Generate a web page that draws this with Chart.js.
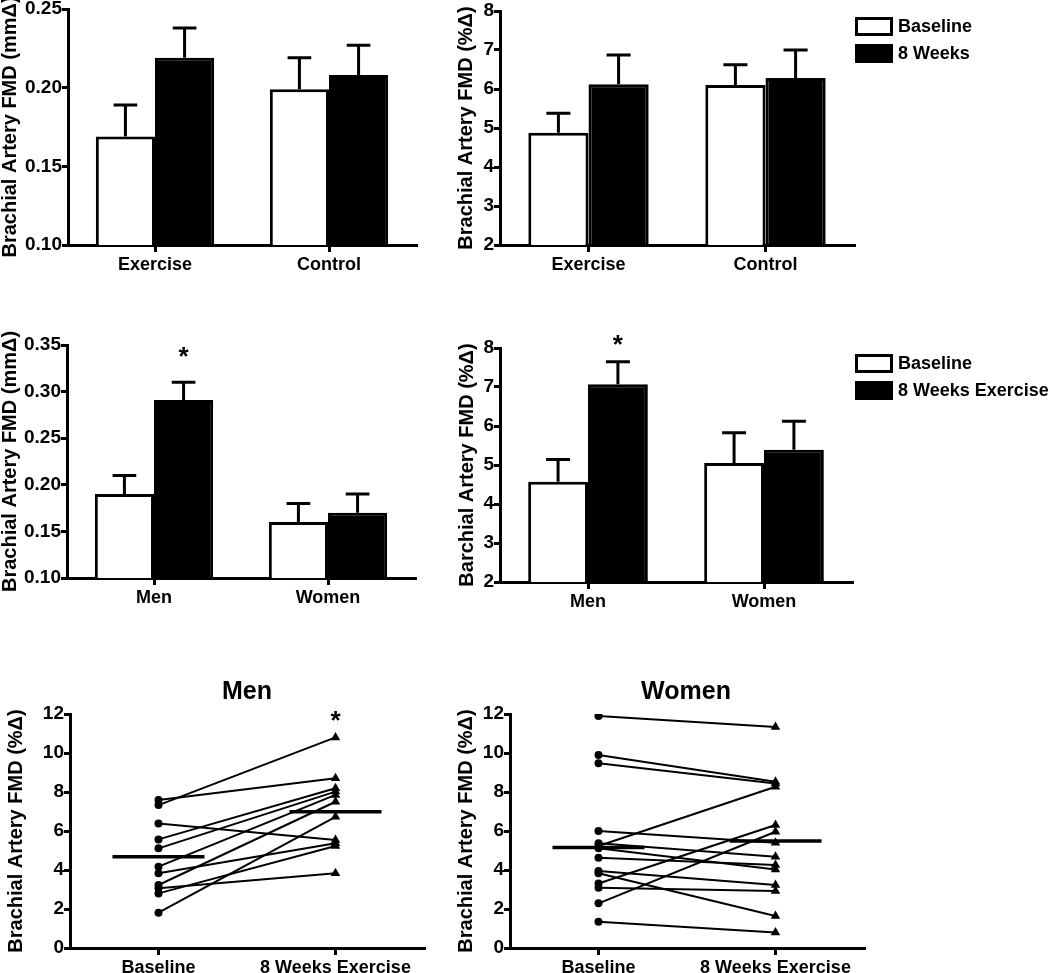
<!DOCTYPE html>
<html>
<head>
<meta charset="utf-8">
<script src="https://cdn.jsdelivr.net/npm/chart.js@4.4.1/dist/chart.umd.min.js"></script>
<style>
    body { margin: 0; background: #fff; width: 1050px; height: 973px; overflow: hidden; position: relative;
           font-family: "Liberation Sans", Arial, sans-serif; }
    canvas { position: absolute; }
    .legend { position: absolute; font-weight: bold; font-size: 18px; color: #000; white-space: nowrap; }
    .legend .row { display: flex; align-items: center; height: 27px; }
    .legend .box { width: 32px; height: 13px; border: 3px solid #000; margin-right: 5px; }
    .ptitle { position: absolute; font-weight: bold; font-size: 25px; transform: translate(-50%, -50%); }
</style>
</head>
<body>
<canvas id="chart-a" width="434" height="286" style="left:-4px;top:-6px"></canvas>
<canvas id="chart-b" width="430" height="284" style="left:440px;top:-4px"></canvas>
<canvas id="chart-c" width="434" height="283" style="left:-4px;top:330px"></canvas>
<canvas id="chart-d" width="430" height="284" style="left:440px;top:333px"></canvas>
<canvas id="chart-e" width="440" height="313" style="left:0;top:665px"></canvas>
<canvas id="chart-f" width="440" height="313" style="left:440px;top:665px"></canvas>

<div class="legend" style="left:855px;top:13px">
    <div class="row"><div class="box" style="background:#fff"></div>Baseline</div>
    <div class="row"><div class="box" style="background:#000"></div>8 Weeks</div>
</div>
<div class="legend" style="left:855px;top:350px">
    <div class="row"><div class="box" style="background:#fff"></div>Baseline</div>
    <div class="row"><div class="box" style="background:#000"></div>8 Weeks Exercise</div>
</div>
<div class="ptitle" style="left:247px;top:690px">Men</div>
<div class="ptitle" style="left:686px;top:690px">Women</div>

<script>
// ── Data ────────────────────────────────────────────────────────────────
const groupsTrial = ["Exercise", "Control"];
const groupsSex = ["Men", "Women"];
const timeLabels = ["Baseline", "8 Weeks Exercise"];

// A: mm change, Exercise vs Control
const mmBaseline = [0.169, 0.199];
const mmBaselineSem = [0.020, 0.020];
const mm8Weeks = [0.219, 0.208];
const mm8WeeksSem = [0.019, 0.019];

// B: % change, Exercise vs Control
const pctBaseline = [4.88, 6.10];
const pctBaselineSem = [0.50, 0.52];
const pct8Weeks = [6.12, 6.28];
const pct8WeeksSem = [0.75, 0.72];

// C: mm change, Men vs Women
const mmSexBaseline = [0.190, 0.160];
const mmSexBaselineSem = [0.020, 0.020];
const mmSex8Weeks = [0.291, 0.170];
const mmSex8WeeksSem = [0.019, 0.020];

// D: % change, Men vs Women
const pctSexBaseline = [4.57, 5.05];
const pctSexBaselineSem = [0.57, 0.78];
const pctSex8Weeks = [7.07, 5.39];
const pctSex8WeeksSem = [0.58, 0.73];

// E/F: individual subjects
const menBaseline = [7.33, 7.59, 6.39, 5.57, 5.11, 4.17, 3.83, 3.23, 3.06, 2.80, 1.81];
const menWeek8 = [10.80, 8.70, 5.54, 8.19, 8.02, 7.85, 5.37, 7.50, 3.83, 5.23, 6.73];
const menMeans = [4.68, 6.99];

const womenBaseline = [11.90, 9.90, 9.47, 5.23, 6.00, 5.37, 5.11, 4.63, 3.95, 3.83, 3.31, 3.09, 2.29, 1.35];
const womenWeek8 = [11.33, 8.53, 8.44, 8.27, 5.40, 4.68, 4.03, 4.26, 3.23, 1.64, 6.31, 2.92, 5.96, 0.80];
const womenMeans = [5.16, 5.49];

// ── Defaults ─────────────────────────────────────────────────────────────
Chart.defaults.font.family = '"Liberation Sans", Arial, sans-serif';
Chart.defaults.font.weight = "bold";
Chart.defaults.color = "#000";
Chart.defaults.animation = false;

// Upper error bars from dataset.sem
const errorBarsPlugin = {
    id: "errorBars",
    afterDatasetsDraw(chart) {
        const ctx = chart.ctx;
        const y = chart.scales.y;
        chart.data.datasets.forEach((ds, i) => {
            if (!ds.sem) return;
            chart.getDatasetMeta(i).data.forEach((bar, j) => {
                const top = y.getPixelForValue(ds.data[j] + ds.sem[j]);
                const half = bar.width * 0.2;
                ctx.save();
                ctx.strokeStyle = "#000";
                ctx.lineWidth = 3;
                ctx.beginPath();
                ctx.moveTo(bar.x, bar.y);
                ctx.lineTo(bar.x, top);
                ctx.moveTo(bar.x - half, top);
                ctx.lineTo(bar.x + half, top);
                ctx.stroke();
                ctx.restore();
            });
        });
    }
};

// Significance stars
const starsPlugin = {
    id: "stars",
    afterDraw(chart, args, opts) {
        if (!opts.items) return;
        const ctx = chart.ctx;
        opts.items.forEach((s) => {
            let x;
            if (s.ds !== undefined) x = chart.getDatasetMeta(s.ds).data[s.idx].x;
            else x = chart.scales.x.getPixelForValue(s.x);
            const y = chart.scales.y.getPixelForValue(s.value);
            ctx.save();
            ctx.font = "bold 26px 'Liberation Sans', Arial, sans-serif";
            ctx.textAlign = "center";
            ctx.textBaseline = "middle";
            ctx.fillStyle = "#000";
            ctx.fillText("*", x, y);
            ctx.restore();
        });
    }
};

function yAxis(min, max, step, decimals, title, width, titlePad) {
    return {
        min, max,
        ticks: { stepSize: step, font: { size: 19 }, padding: 0, callback: (v) => v.toFixed(decimals) },
        grid: { drawOnChartArea: false, drawTicks: true, tickLength: 6, lineWidth: 3, color: "#000" },
        border: { color: "#000", width: 3 },
        title: { display: true, text: title, font: { size: 20 }, padding: { top: titlePad, bottom: 0 } },
        afterFit: (s) => { s.width = width; }
    };
}

function makeBarChart(id, labels, base, baseSem, wk, wkSem, yOpts, padRight, padTop, stars) {
    const ctx = document.getElementById(id).getContext("2d");
    return new Chart(ctx, {
        type: "bar",
        data: {
            labels,
            datasets: [
                { label: "Baseline", data: base, sem: baseSem, backgroundColor: "#fff", borderColor: "#000", borderWidth: 3 },
                { label: "8 Weeks", data: wk, sem: wkSem, backgroundColor: "#000", borderColor: "#000", borderWidth: 3 }
            ]
        },
        options: {
            responsive: false,
            layout: { padding: { top: padTop, right: padRight, left: 0, bottom: 0 } },
            categoryPercentage: 0.68,
            barPercentage: 1.0,
            plugins: { legend: { display: false }, tooltip: { enabled: false }, stars: { items: stars } },
            scales: {
                x: {
                    offset: true,
                    ticks: { font: { size: 18 }, padding: 2 },
                    grid: { offset: false, drawOnChartArea: false, drawTicks: true, tickLength: 7, lineWidth: 3, color: "#000" },
                    border: { color: "#000", width: 3 },
                    afterFit: (s) => { s.height = 35; }
                },
                y: yOpts
            }
        },
        plugins: [errorBarsPlugin, starsPlugin]
    });
}

function makeSubjectChart(id, base, wk, means, yOpts, padRight, stars) {
    const datasets = base.map((b, i) => ({
        data: [{ x: 0, y: b }, { x: 1, y: wk[i] }],
        borderColor: "#000",
        borderWidth: 2,
        pointStyle: ["circle", "triangle"],
        pointRadius: [4, 5.5],
        pointBackgroundColor: "#000",
        pointBorderColor: "#000",
        pointBorderWidth: 0
    }));
    means.forEach((m, i) => {
        datasets.push({
            data: [{ x: i - 0.26, y: m }, { x: i + 0.26, y: m }],
            borderColor: "#000",
            borderWidth: 3.5,
            pointRadius: 0
        });
    });
    const ctx = document.getElementById(id).getContext("2d");
    return new Chart(ctx, {
        type: "line",
        data: { datasets },
        options: {
            responsive: false,
            layout: { padding: { top: 49, right: padRight, left: 0, bottom: 0 } },
            plugins: { legend: { display: false }, tooltip: { enabled: false }, stars: { items: stars } },
            scales: {
                x: {
                    type: "linear",
                    min: -0.5, max: 1.5,
                    afterBuildTicks: (s) => { s.ticks = [{ value: 0 }, { value: 1 }]; },
                    ticks: { font: { size: 18 }, padding: 2, callback: (v) => timeLabels[v] },
                    grid: { drawOnChartArea: false, drawTicks: true, tickLength: 7, lineWidth: 3, color: "#000" },
                    border: { color: "#000", width: 3 },
                    afterFit: (s) => { s.height = 30; }
                },
                y: yOpts
            }
        },
        plugins: [starsPlugin]
    });
}

// ── Charts ───────────────────────────────────────────────────────────────
makeBarChart("chart-a", groupsTrial, mmBaseline, mmBaselineSem, mm8Weeks, mm8WeeksSem,
    yAxis(0.10, 0.25, 0.05, 2, "Brachial Artery FMD (mmΔ)", 72, 2), 14, 15, []);

makeBarChart("chart-b", groupsTrial, pctBaseline, pctBaselineSem, pct8Weeks, pct8WeeksSem,
    yAxis(2, 8, 1, 0, "Brachial Artery FMD (%Δ)", 60, 14), 16, 15, []);

makeBarChart("chart-c", groupsSex, mmSexBaseline, mmSexBaselineSem, mmSex8Weeks, mmSex8WeeksSem,
    yAxis(0.10, 0.35, 0.05, 2, "Brachial Artery FMD (mmΔ)", 71, 2), 15, 15,
    [{ ds: 1, idx: 0, value: 0.336 }]);

makeBarChart("chart-d", groupsSex, pctSexBaseline, pctSexBaselineSem, pctSex8Weeks, pctSex8WeeksSem,
    yAxis(2, 8, 1, 0, "Barchial Artery FMD (%Δ)", 60, 15), 18, 15,
    [{ ds: 1, idx: 0, value: 8.05 }]);

makeSubjectChart("chart-e", menBaseline, menWeek8, menMeans,
    yAxis(0, 12, 2, 0, "Brachial Artery FMD (%Δ)", 70, 4), 16,
    [{ x: 1, value: 11.6 }]);

makeSubjectChart("chart-f", womenBaseline, womenWeek8, womenMeans,
    yAxis(0, 12, 2, 0, "Brachial Artery FMD (%Δ)", 70, 14), 16, []);
</script>
</body>
</html>
